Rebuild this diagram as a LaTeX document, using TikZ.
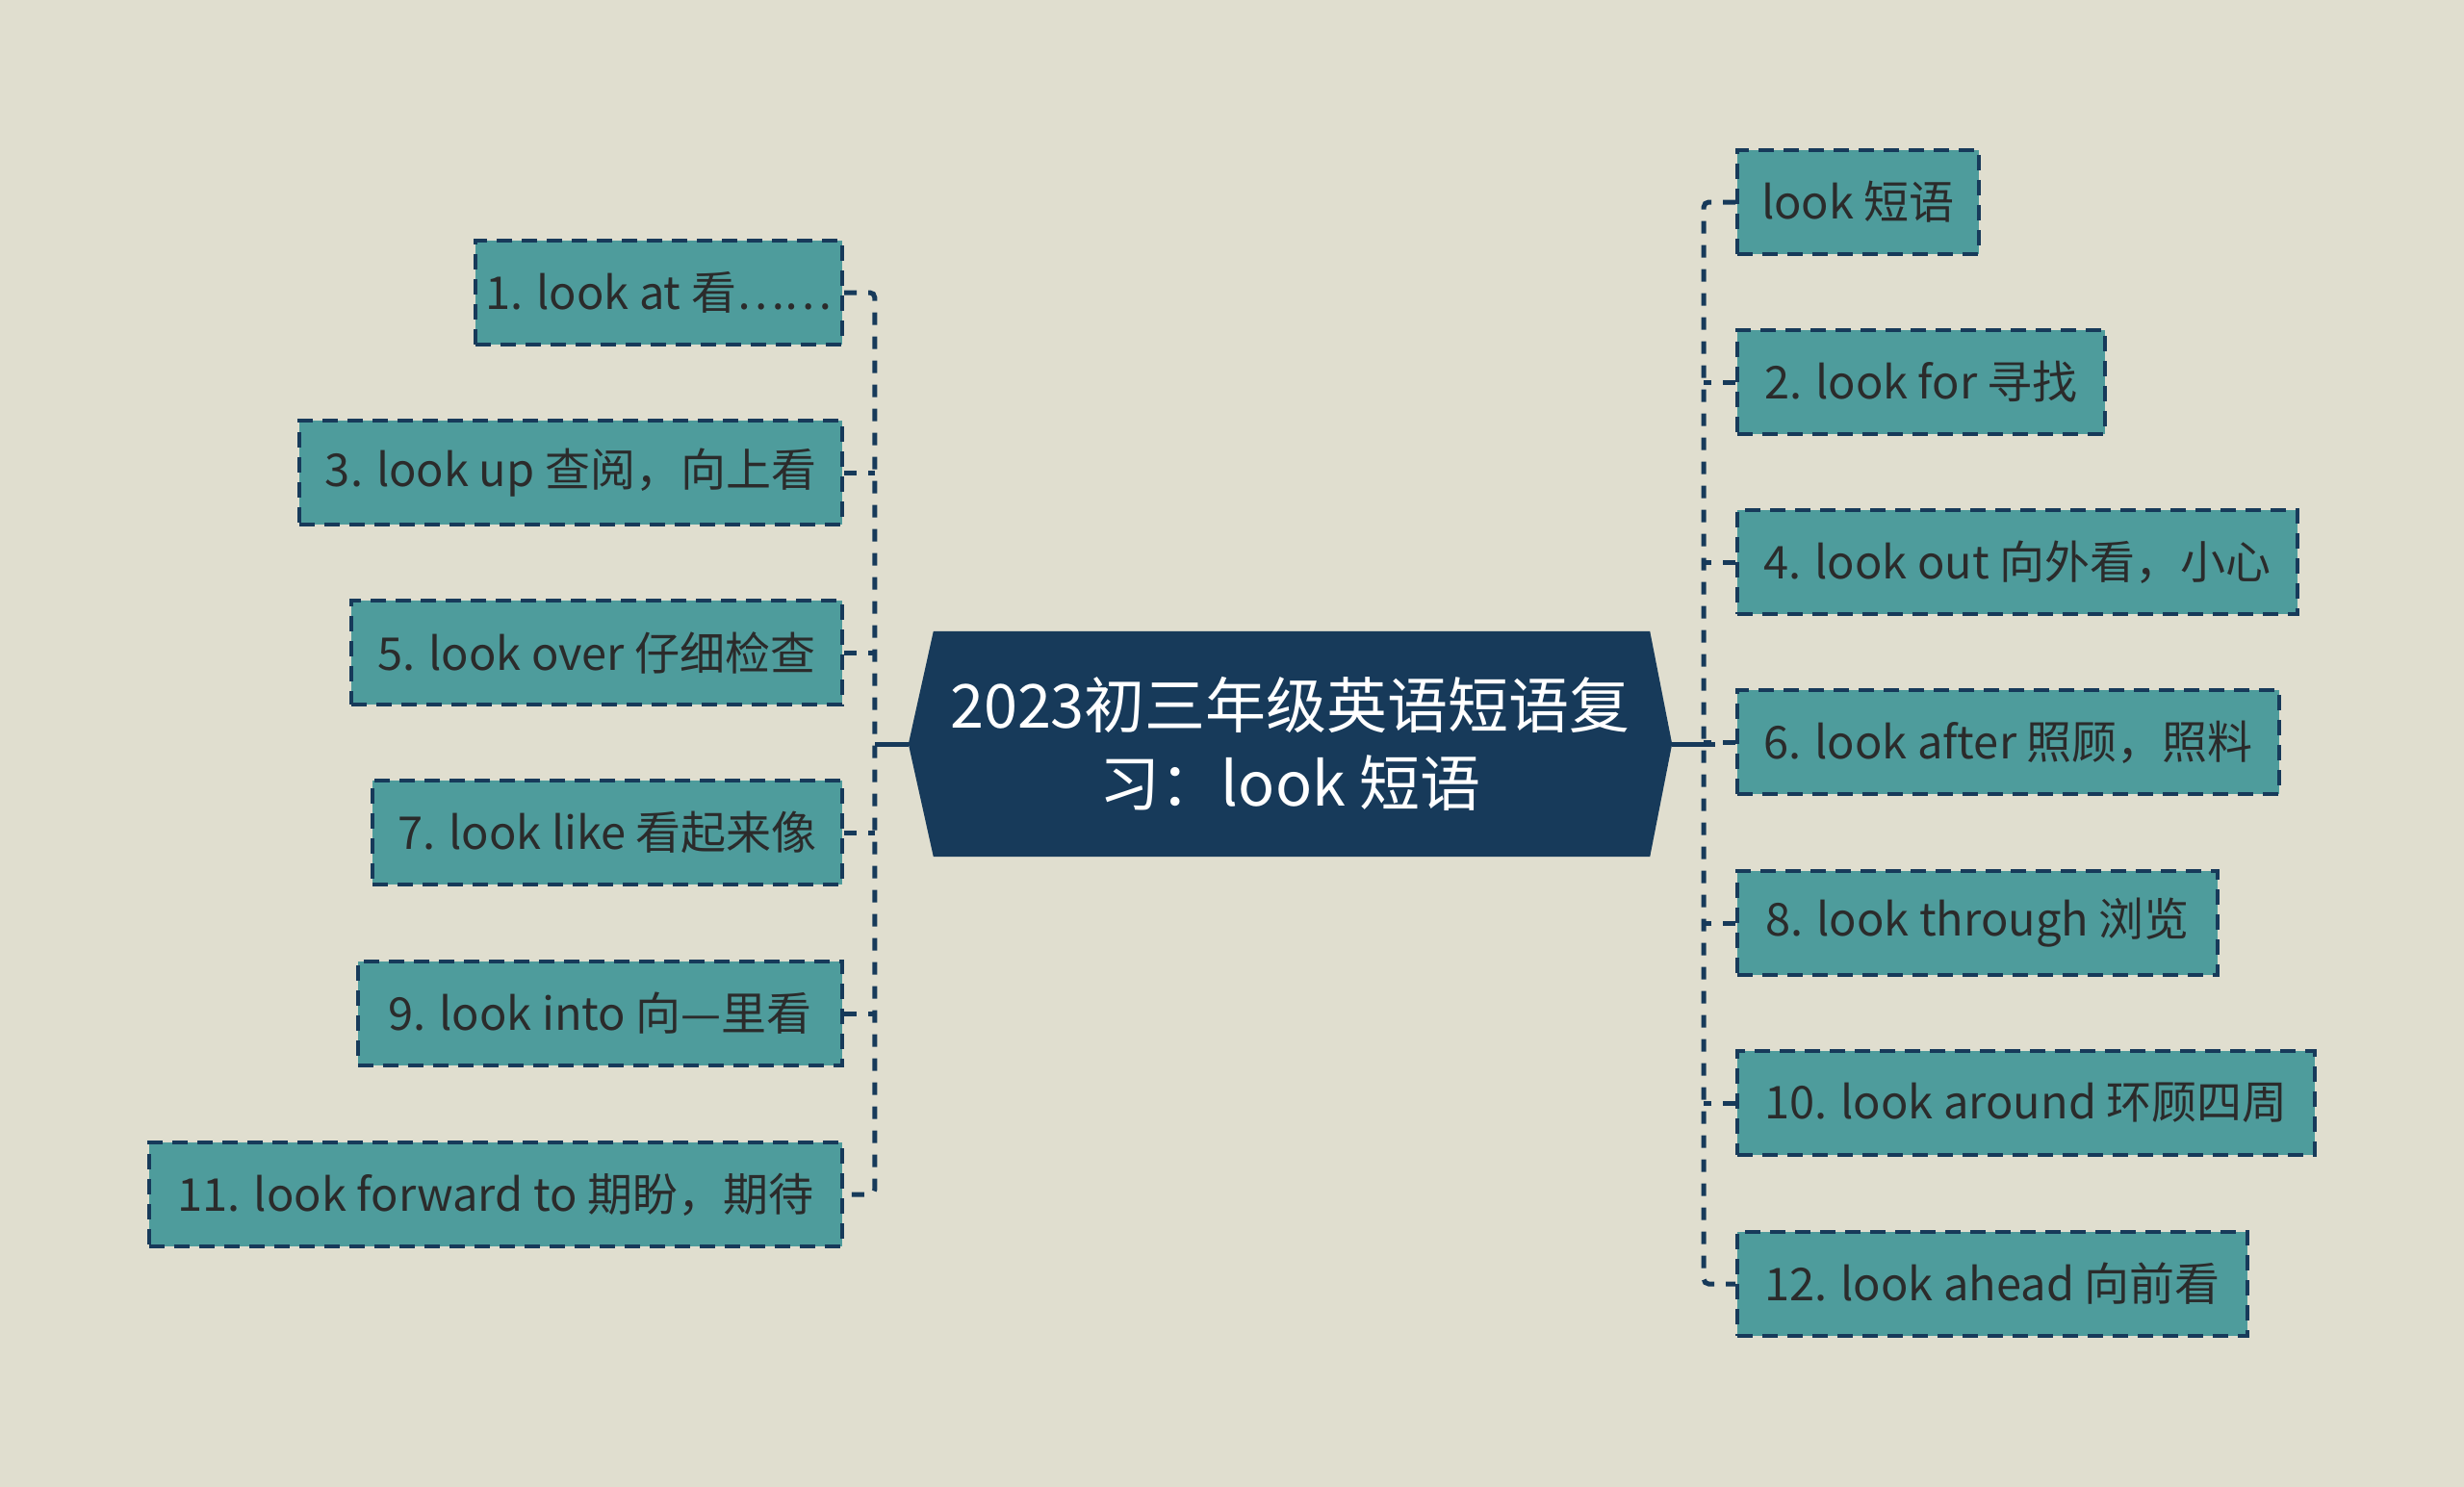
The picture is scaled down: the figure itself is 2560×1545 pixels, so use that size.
\documentclass[tikz,border=0pt]{standalone}
\usepackage{fontspec}
\setmainfont{Noto Sans CJK SC}
\usetikzlibrary{backgrounds}
\definecolor{bgc}{HTML}{E0DECF}
\definecolor{leaffill}{HTML}{4E9C9C}
\definecolor{navy}{HTML}{173A5A}
\definecolor{txt}{HTML}{2B2B2B}
\tikzset{
  leaf/.style={draw=navy, line width=4pt, dash pattern=on 16pt off 10pt,
    fill=leaffill, minimum height=108pt, inner sep=0pt, text=txt,
    font=\fontsize{47}{56}\selectfont},
  lleaf/.style={leaf, anchor=east},
  rleaf/.style={leaf, anchor=west},
  conn/.style={draw=navy, line width=5pt, dash pattern=on 13pt off 12pt},
  stub/.style={draw=navy, line width=5pt},
  hub/.style={minimum width=793pt, minimum height=234pt, inner sep=0pt,
    text=white, align=center, font=\fontsize{63}{81}\selectfont}
}
\begin{document}
\begin{tikzpicture}[x=1pt,y=-1pt]
\begin{scope}[on background layer]
  \fill[bgc] (0,0) rectangle (2560,1545);
\end{scope}
\useasboundingbox (0,0) rectangle (2560,1545);

\node[hub] (c) at (1340.5,773) {2023初三年级英语短语复\\习：look 短语};
\begin{scope}[on background layer]
  \fill[navy] ([xshift=26pt]c.north west) -- (c.west) -- ([xshift=26pt]c.south west)
    -- ([xshift=-23pt]c.south east) -- (c.east) -- ([xshift=-23pt]c.north east) -- cycle;
\end{scope}

% left nodes
\node[lleaf, minimum width=381pt] (L1) at (877,304) {1. look at 看……};
\node[lleaf, minimum width=564pt] (L3) at (877,491) {3. look up 查阅，向上看};
\node[lleaf, minimum width=510pt] (L5) at (877,678) {5. look over 仔细检查};
\node[lleaf, minimum width=488pt] (L7) at (877,865) {7. look like 看起来像};
\node[lleaf, minimum width=503pt] (L9) at (877,1053) {9. look into 向—里看};
\node[lleaf, minimum width=720pt] (L11) at (877,1241) {11. look forward to 期盼，期待};

% right nodes
\node[rleaf, minimum width=251pt] (R0) at (1803,210) {look 短语};
\node[rleaf, minimum width=382pt] (R2) at (1803,397) {2. look for 寻找};
\node[rleaf, minimum width=582pt] (R4) at (1803,584) {4. look out 向外看，小心};
\node[rleaf, minimum width=563pt] (R6) at (1803,771) {6. look after 照顾，照料};
\node[rleaf, minimum width=499pt] (R8) at (1803,959) {8. look through 浏览};
\node[rleaf, minimum width=600pt] (R10) at (1803,1146) {10. look around 环顾四周};
\node[rleaf, minimum width=530pt] (R12) at (1803,1334) {12. look ahead 向前看};

% trunk coordinates
\coordinate (tl) at ([xshift=-35pt]c.west);
\coordinate (tr) at ([xshift=33pt]c.east);
\coordinate (trx) at ([xshift=45pt]c.east);

% left connectors
\draw[stub] (c.west) -- (tl);
\draw[conn, rounded corners=5pt] (L1.east) -| (tl |- L11.east) -- (L11.east);
\foreach \n in {L3,L5,L7,L9} {
  \draw[conn] (\n.east) -- (tl |- \n.east);
}
% right connectors
\draw[stub] (c.east) -- (trx);
\draw[conn, rounded corners=5pt] (R0.west) -| (tr |- R12.west) -- (R12.west);
\foreach \n in {R2,R4,R6,R8,R10} {
  \draw[conn] (\n.west) -- (tr |- \n.west);
}
\end{tikzpicture}
\end{document}
